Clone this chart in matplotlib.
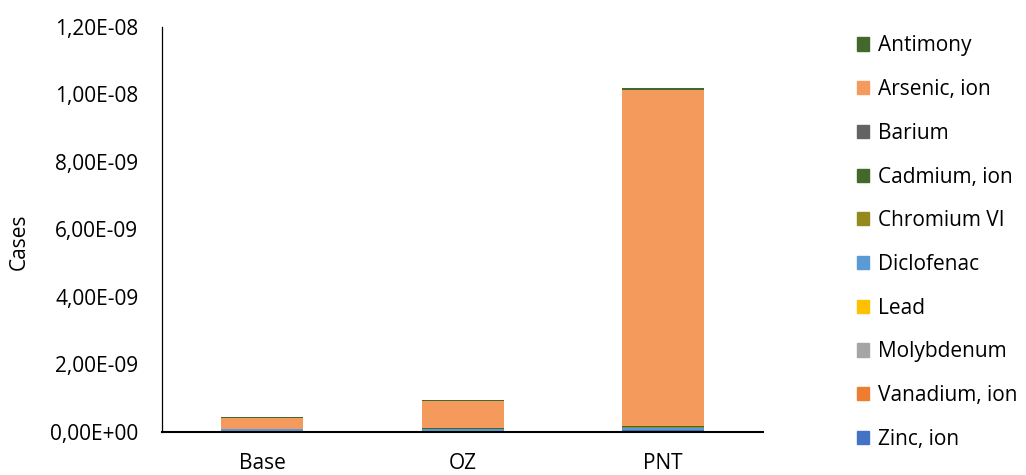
import numpy as np
import matplotlib.pyplot as plt
from matplotlib.ticker import FuncFormatter
from matplotlib.patches import Patch

plt.rcParams['font.family'] = ['Open Sans', 'DejaVu Sans']

scenarios = ["Base", "OZ", "PNT"]

# stack order, bottom to top
substances = ["Zinc, ion", "Vanadium, ion", "Molybdenum", "Lead", "Diclofenac",
              "Chromium VI", "Cadmium, ion", "Barium", "Arsenic, ion", "Antimony"]
colors = ["#4472C4", "#ED7D31", "#A5A5A5", "#FFC000", "#5B9BD5",
          "#948A1C", "#43682B", "#636363", "#F39A5C", "#43682B"]

zinc = [0.02e-9, 0.02e-9, 0.05e-9]
vanadium = [0.004e-9, 0.004e-9, 0.006e-9]
molybdenum = [0.003e-9, 0.003e-9, 0.004e-9]
lead = [0.002e-9, 0.002e-9, 0.003e-9]
diclofenac = [0.05e-9, 0.07e-9, 0.07e-9]
chromium = [0.003e-9, 0.003e-9, 0.005e-9]
cadmium = [0.01e-9, 0.01e-9, 0.04e-9]
barium = [0.004e-9, 0.004e-9, 0.006e-9]
arsenic = [0.32e-9, 0.80e-9, 9.96e-9]
antimony = [0.03e-9, 0.03e-9, 0.04e-9]

series = [zinc, vanadium, molybdenum, lead, diclofenac,
          chromium, cadmium, barium, arsenic, antimony]

fs = 15

fig = plt.figure(figsize=(10.26, 4.75), dpi=100)
ax = fig.add_axes([0.158, 0.0905, 0.586, 0.853])

x = np.arange(len(scenarios))
bottom = np.zeros(len(scenarios))
for vals, col in zip(series, colors):
    ax.bar(x, vals, bottom=bottom, width=0.41, color=col, edgecolor='none')
    bottom += np.array(vals)

ax.set_xlim(-0.5, 2.5)
ax.set_ylim(0, 1.2e-8)
ax.set_yticks(np.arange(0, 1.21e-8, 2e-9))
ax.yaxis.set_major_formatter(FuncFormatter(lambda v, p: f"{v:.2E}".replace('.', ',')))
ax.set_xticks(x)
ax.set_xticklabels(scenarios)
ax.tick_params(axis='y', length=0, labelsize=fs, pad=17)
ax.tick_params(axis='x', length=0, labelsize=fs, pad=15)
ax.set_ylabel("Cases", fontsize=fs)
ax.yaxis.set_label_coords(-0.22, 0.47)
for s in ['top', 'right']:
    ax.spines[s].set_visible(False)
ax.spines['left'].set_linewidth(0.9)
ax.spines['bottom'].set_linewidth(1.5)

handles = [Patch(color=c, label=n) for n, c in zip(substances[::-1], colors[::-1])]
fig.legend(handles=handles, loc='upper left', bbox_to_anchor=(0.817, 0.965),
           frameon=False, fontsize=fs, labelspacing=1.09,
           handlelength=0.6, handleheight=0.6, handletextpad=0.4)

fig.savefig("out.png", dpi=100)
